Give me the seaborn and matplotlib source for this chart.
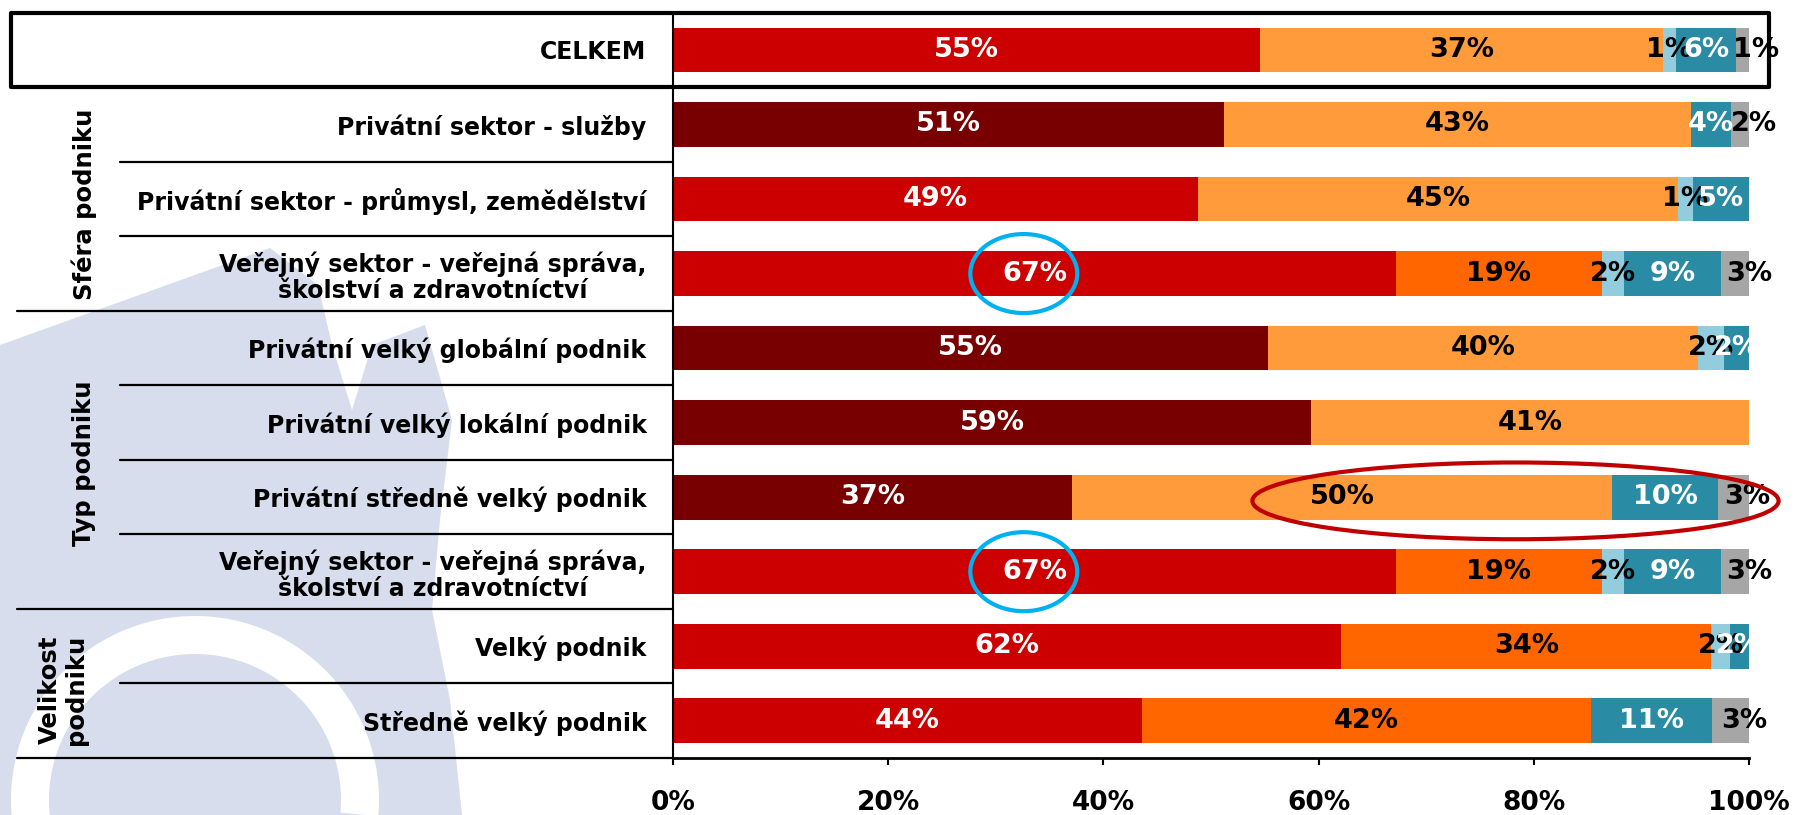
import numpy as np
import pandas as pd
import matplotlib
matplotlib.use("Agg")
import matplotlib.pyplot as plt
import matplotlib.transforms as mtransforms
from matplotlib.patches import Ellipse, Polygon, Wedge, Rectangle
from matplotlib.lines import Line2D
from matplotlib.ticker import FuncFormatter
import seaborn as sns

# ---- data -------------------------------------------------------------
categories = [
    "CELKEM",
    "Privátní sektor - služby",
    "Privátní sektor - průmysl, zemědělství",
    "Veřejný sektor - veřejná správa,\nškolství a zdravotníctví",
    "Privátní velký globální podnik",
    "Privátní velký lokální podnik",
    "Privátní středně velký podnik",
    "Veřejný sektor - veřejná správa,\nškolství a zdravotníctví",
    "Velký podnik",
    "Středně velký podnik",
]
seg1 = [54.6, 51.2, 48.8, 67.2, 55.3, 59.3, 37.1, 67.2, 62.1, 43.6]
seg2 = [37.4, 43.4, 44.6, 19.1, 40.0, 40.7, 50.2, 19.1, 34.4, 41.7]
seg3 = [1.2, 0.0, 1.4, 2.1, 2.4, 0.0, 0.0, 2.1, 1.7, 0.0]
seg4 = [5.6, 3.7, 5.2, 9.0, 2.3, 0.0, 9.8, 9.0, 1.8, 11.3]
seg5 = [1.2, 1.7, 0.0, 2.6, 0.0, 0.0, 2.9, 2.6, 0.0, 3.4]
group_labels = ["Sféra podniku", "Typ podniku", "Velikost\npodniku"]
x_ticks = [0, 20, 40, 60, 80, 100]

# ---- colours ----------------------------------------------------------
RED, DARK_RED = "#CC0000", "#780000"
LIGHT_ORANGE, ORANGE = "#FF9B3B", "#FF6600"
LIGHT_BLUE, TEAL, GREY = "#93CDDD", "#2A8BA5", "#A6A6A6"
private_rows = {1, 4, 5, 6}
orange_rows = {3, 7, 8, 9}
n = len(categories)
colors1 = [DARK_RED if i in private_rows else RED for i in range(n)]
colors2 = [ORANGE if i in orange_rows else LIGHT_ORANGE for i in range(n)]
colors3 = [LIGHT_BLUE] * n
colors4 = [TEAL] * n
colors5 = [GREY] * n
text_colors = ["white", "black", "black", "white", "black"]

segments = [seg1, seg2, seg3, seg4, seg5]
seg_colors = [colors1, colors2, colors3, colors4, colors5]

W, H = 1794, 815
sns.set_style("white")
plt.rcParams["font.family"] = ["DejaVu Sans"]
for key in ["text.color", "axes.labelcolor", "xtick.color", "ytick.color"]:
    plt.rcParams[key] = "black"

fig = plt.figure(figsize=(W / 100, H / 100), dpi=100)
ax = fig.add_axes([673 / W, 1 - 758 / H, (1749 - 673) / W, (758 - 12.7) / H])
ax.set_facecolor("white")

# pixel transform for figure decorations (origin top-left)
px = mtransforms.Affine2D().scale(1 / W, -1 / H).translate(0, 1) + fig.transFigure

# faint background logo on the left
wm = "#D7DDED"
fig.add_artist(Polygon([(0, 345), (270, 248), (318, 285), (332, 345), (352, 410),
                        (372, 345), (425, 325), (452, 420), (440, 520), (432, 610),
                        (450, 700), (462, 815), (0, 815)],
                       closed=True, facecolor=wm, edgecolor="none",
                       transform=px, zorder=-2))
fig.add_artist(Wedge((195, 800), 184, 174, 365, width=38, facecolor="white",
                     edgecolor="none", transform=px, zorder=-1))

# ---- stacked bars -------------------------------------------------------
row_ids = [f"r{i}" for i in range(n)]
df = pd.DataFrame({"row": row_ids})
cums = np.cumsum(np.array(segments), axis=0)
for k in reversed(range(len(segments))):
    col = f"cum{k}"
    df[col] = cums[k]
    sns.barplot(data=df, x=col, y="row", hue="row", order=row_ids, hue_order=row_ids,
                palette=dict(zip(row_ids, seg_colors[k])), orient="h", width=0.6,
                saturation=1, errorbar=None, legend=False, dodge=False,
                linewidth=0, ax=ax)

# value labels (the last, grey segment's label is nudged to the right)
for k, seg in enumerate(segments):
    for i, v in enumerate(seg):
        if v <= 0:
            continue
        xc = cums[k][i] - v / 2
        dx = 10 if k == 4 else 0
        t = ax.annotate(f"{v:.0f}%", xy=(xc, i), xytext=(dx, 0),
                        textcoords="offset points", ha="center", va="center",
                        color=text_colors[k], fontsize=19.5, fontweight="bold",
                        zorder=6)
        if k != 4:
            t.set_clip_box(ax.bbox)
            t.set_clip_on(True)
        else:
            t.set_clip_on(False)

# ---- axes styling -------------------------------------------------------
ax.set_xlim(0, 100)
ax.set_ylim(n - 0.5, -0.5)
ax.set_xlabel("")
ax.set_ylabel("")
ax.set_xticks(x_ticks)
ax.xaxis.set_major_formatter(FuncFormatter(lambda v, p: f"{v:.0f}%"))
for lab in ax.get_xticklabels():
    lab.set_fontweight("bold")
    lab.set_fontsize(19)
ax.tick_params(axis="x", direction="out", length=5, width=1.5, pad=18,
               colors="black", bottom=True)

ax.set_yticks(range(n))
ax.set_yticklabels(categories, fontsize=17, fontweight="bold", color="black",
                   multialignment="center", linespacing=1.12)
ax.tick_params(axis="y", which="major", length=0, pad=19)
ax.set_yticks([1.5, 2.5, 4.5, 5.5, 6.5, 8.5], minor=True)
ax.tick_params(axis="y", which="minor", direction="in", length=5, width=1.5)
for side in ["top", "right"]:
    ax.spines[side].set_visible(False)
ax.spines["left"].set_linewidth(1.5)
ax.spines["left"].set_color("black")
ax.spines["bottom"].set_linewidth(2)
ax.spines["bottom"].set_color("black")
ax.grid(False)

# ---- table lines and group labels --------------------------------------
blend = mtransforms.blended_transform_factory(fig.transFigure, ax.transData)
x_axis = 673 / W
for y in [1.5, 2.5, 4.5, 5.5, 6.5, 8.5]:
    fig.add_artist(Line2D([120 / W, x_axis], [y, y], transform=blend,
                          color="black", lw=1.6))
for y in [3.5, 7.5, 9.5]:
    fig.add_artist(Line2D([17 / W, x_axis], [y, y], transform=blend,
                          color="black", lw=1.6))

fig.add_artist(Rectangle((11 / W, -0.5), (1769 - 11) / W, 1.0, transform=blend,
                         fill=False, edgecolor="black", lw=3, zorder=8,
                         joinstyle="round"))

group_pos = [(84, 204), (84, 463), (63, 690)]
for lbl, (gx, gy) in zip(group_labels, group_pos):
    fig.text(gx / W, 1 - gy / H, lbl, rotation=90, ha="center", va="center",
             fontsize=17.5, fontweight="bold", multialignment="center",
             linespacing=1.1, color="black")

# ---- highlight ellipses -------------------------------------------------
for row in (3, 7):
    ax.add_patch(Ellipse((32.6, row), 9.94, 1.06, fill=False,
                         edgecolor="#00B0F0", lw=3, zorder=7, clip_on=False))
ax.add_patch(Ellipse((78.3, 6.05), 48.9, 1.03, fill=False, edgecolor="#C00000",
                     lw=3, zorder=7, clip_on=False))

fig.savefig("out.png", dpi=100)
